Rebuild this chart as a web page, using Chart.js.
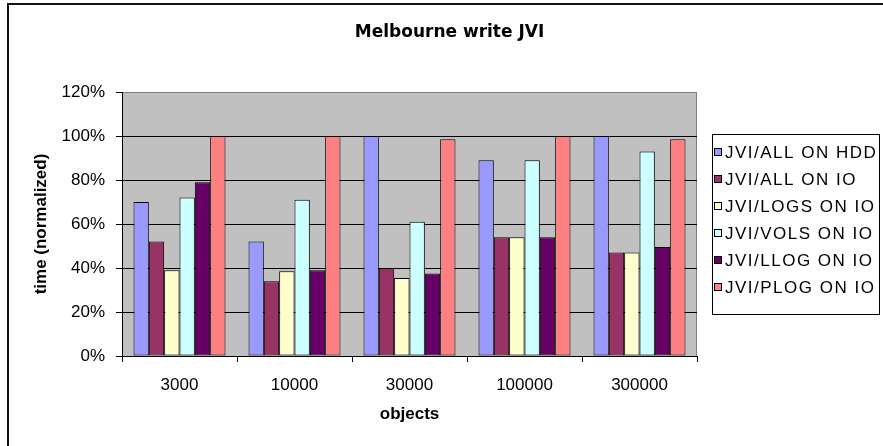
<!DOCTYPE html>
<html>
<head>
<meta charset="utf-8">
<title>Melbourne write JVI</title>
<script src="https://cdn.jsdelivr.net/npm/chart.js@4.4.1/dist/chart.umd.min.js"></script>
<style>
    html, body { margin: 0; padding: 0; background: #fff; }
    canvas { display: block; }
</style>
</head>
<body>
<canvas id="grafico" width="883" height="446"></canvas>
<script>
// Chart data (time normalized, in %)
const categorias = ['3000', '10000', '30000', '100000', '300000'];
const allOnHdd = [70, 52, 100, 89, 100];
const allOnIo = [52, 34, 40, 54, 47];
const logsOnIo = [39, 38.5, 35.5, 54, 47];
const volsOnIo = [72, 71, 61, 89, 93];
const llogOnIo = [79, 39, 37.5, 54, 49.5];
const plogOnIo = [100, 100, 98.5, 100, 98.5];

const nomesSeries = ['JVI/ALL ON HDD', 'JVI/ALL ON IO', 'JVI/LOGS ON IO', 'JVI/VOLS ON IO', 'JVI/LLOG ON IO', 'JVI/PLOG ON IO'];
const coresSeries = ['#9999FF', '#993366', '#FFFFCC', '#CCFFFF', '#660066', '#FF8080'];
const valoresSeries = [allOnHdd, allOnIo, logsOnIo, volsOnIo, llogOnIo, plogOnIo];

const fonteTexto = 'Liberation Sans, Arial, sans-serif';

// Gray plot background, painted before the scales draw their grid
const fundoPlot = {
    id: 'fundoPlot',
    beforeDraw(chart) {
        const { ctx, chartArea } = chart;
        ctx.save();
        ctx.fillStyle = '#C0C0C0';
        ctx.fillRect(chartArea.left, chartArea.top, chartArea.width, chartArea.height);
        ctx.fillStyle = '#808080';
        ctx.fillRect(Math.round(chartArea.right) - 1, chartArea.top, 1, chartArea.height);
        ctx.restore();
    }
};

// Legend in a box on the right, plus the cropped outer frame
const legendaCaixa = {
    id: 'legendaCaixa',
    afterDraw(chart) {
        const { ctx } = chart;
        ctx.save();
        ctx.strokeStyle = '#000';
        ctx.lineWidth = 1;
        ctx.strokeRect(712.5, 134.5, 167, 180);

        ctx.font = '17px ' + fonteTexto;
        ctx.textBaseline = 'middle';
        ctx.textAlign = 'left';
        if ('letterSpacing' in ctx) ctx.letterSpacing = '1.5px';
        chart.data.datasets.forEach((ds, i) => {
            const y = 152 + i * 27;
            ctx.fillStyle = ds.backgroundColor;
            ctx.fillRect(714.5, y - 3.5, 7, 7);
            ctx.strokeRect(714.5, y - 3.5, 7, 7);
            ctx.fillStyle = '#000';
            ctx.fillText(ds.label, 725, y + 1);
        });
        if ('letterSpacing' in ctx) ctx.letterSpacing = '0px';

        ctx.fillStyle = '#111';
        ctx.fillRect(7, 3, 876, 2);
        ctx.fillRect(7, 3, 2, 443);
        ctx.restore();
    }
};

new Chart(document.getElementById('grafico').getContext('2d'), {
    type: 'bar',
    data: {
        labels: categorias,
        datasets: valoresSeries.map((valores, i) => ({
            label: nomesSeries[i],
            data: valores,
            backgroundColor: coresSeries[i],
            borderColor: '#000',
            borderWidth: 1,
            borderSkipped: false,
            categoryPercentage: 0.8,
            barPercentage: 1.0,
        }))
    },
    options: {
        responsive: false,
        animation: false,
        layout: {
            padding: { left: 16, right: 0, top: 0, bottom: 0 }
        },
        plugins: {
            legend: { display: false },
            tooltip: { enabled: false },
            title: {
                display: true,
                text: 'Melbourne write JVI',
                color: '#000',
                font: { family: 'DejaVu Sans', size: 17, weight: 'bold' },
                padding: { top: 22, bottom: 49.6 }
            }
        },
        scales: {
            x: {
                afterFit: (escala) => { escala.height = 90; },
                grid: {
                    offset: true,
                    drawOnChartArea: false,
                    tickLength: 6,
                    color: '#000',
                },
                border: { color: '#000', width: 1 },
                ticks: {
                    color: '#000',
                    font: { family: fonteTexto, size: 17 },
                    padding: 13,
                },
                title: {
                    display: true,
                    text: 'objects',
                    color: '#000',
                    font: { family: fonteTexto, size: 17, weight: 'bold' },
                    padding: { top: 0, bottom: 21 }
                }
            },
            y: {
                min: 0,
                max: 120,
                afterFit: (escala) => { escala.width = 106; },
                grid: {
                    color: (ctx) => (ctx.tick && ctx.tick.value === 120) ? '#808080' : '#000000',
                    tickColor: '#000',
                    lineWidth: 1,
                    tickLength: 6,
                },
                border: { color: '#000', width: 1 },
                ticks: {
                    stepSize: 20,
                    color: '#000',
                    font: { family: fonteTexto, size: 17 },
                    padding: 11,
                    callback: (v) => v + '%'
                },
                title: {
                    display: true,
                    text: 'time (normalized)',
                    color: '#000',
                    font: { family: fonteTexto, size: 17, weight: 'bold' },
                    padding: { top: 15, bottom: 0 }
                }
            },
            // empty axis that keeps room for the legend box
            espacoLegenda: {
                type: 'linear',
                position: 'right',
                afterFit: (escala) => { escala.width = 186; },
                grid: { display: false, drawTicks: false },
                border: { display: false },
                ticks: { display: false }
            }
        }
    },
    plugins: [fundoPlot, legendaCaixa]
});
</script>
</body>
</html>
